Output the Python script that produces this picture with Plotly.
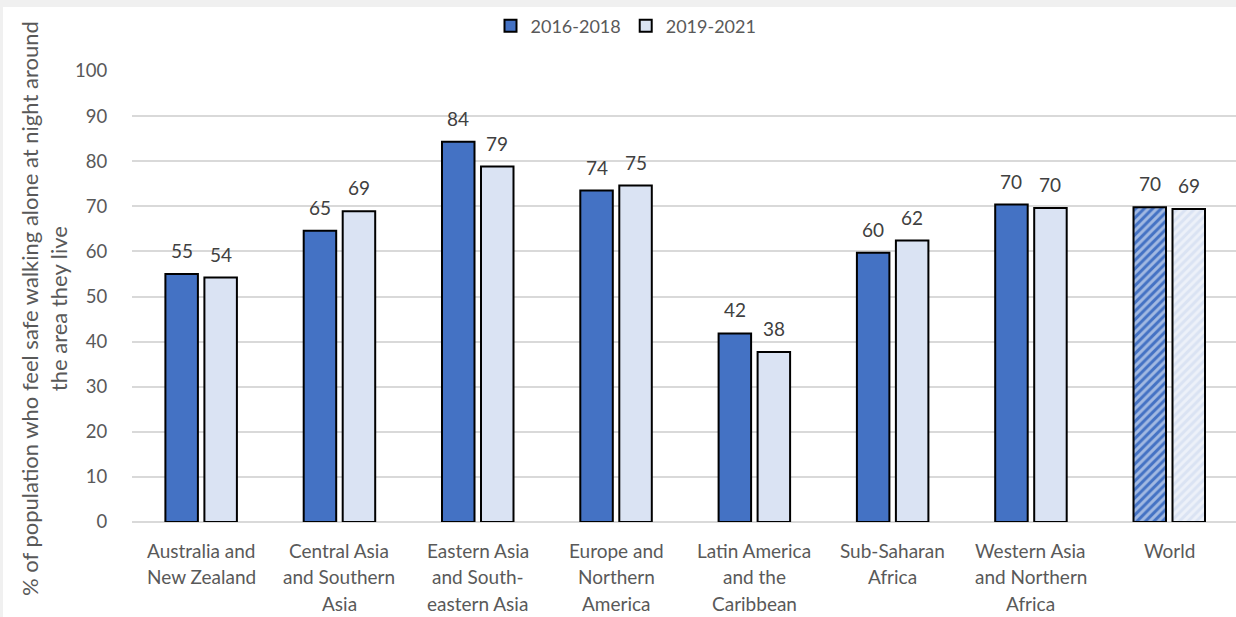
import plotly.graph_objects as go

# Regions (line breaks as wrapped under the axis)
regions = [
    "Australia and\nNew Zealand",
    "Central Asia\nand Southern\nAsia",
    "Eastern Asia\nand South-\neastern Asia",
    "Europe and\nNorthern\nAmerica",
    "Latin America\nand the\nCaribbean",
    "Sub-Saharan\nAfrica",
    "Western Asia\nand Northern\nAfrica",
    "World",
]
series_names = ["2016-2018", "2019-2021"]
safe_2016_2018 = [55.0, 64.6, 84.3, 73.5, 41.8, 59.7, 70.4, 69.8]
safe_2019_2021 = [54.2, 68.9, 78.8, 74.6, 37.7, 62.4, 69.6, 69.4]
y_ticks = [0, 10, 20, 30, 40, 50, 60, 70, 80, 90, 100]
y_title = "% of population who feel safe walking alone at night around<br>the area they live"

DARK = "#4472C4"
LIGHT = "#DAE3F3"
FONT = "Lato"
W, H = 1236, 617
L, T, B = 132, 71, 95
CAT_PX = 138.3
plot_w = W - L

keys = [r.split("\n")[0] for r in regions]  # unique category keys
n = len(regions)
hatch = ["/" if r == "World" else "" for r in regions]

bar_w = 0.235
half_gap = 0.141

fig = go.Figure()
for name, vals, color, sign in [
    (series_names[0], safe_2016_2018, DARK, -1),
    (series_names[1], safe_2019_2021, LIGHT, 1),
]:
    fig.add_trace(go.Bar(
        x=keys, y=vals, name=name,
        width=bar_w, offset=sign * half_gap - bar_w / 2,
        marker=dict(
            color=color,
            line=dict(color="#000000", width=2),
            pattern=dict(shape=hatch, fgcolor="#ffffff", size=6, solidity=0.5),
        ),
        hoverinfo="x+y",
    ))

annotations = []
# value labels above each bar
for vals, sign in [(safe_2016_2018, -1), (safe_2019_2021, 1)]:
    for k, v in zip(keys, vals):
        annotations.append(dict(
            x=k, y=v, xref="x", yref="y", text=f"{v:.0f}", showarrow=False,
            xanchor="center", yanchor="bottom", yshift=10,
            xshift=sign * half_gap * CAT_PX,
            font=dict(family=FONT, size=19, color="#404040"),
        ))
# category labels, one line at a time
for k, r in zip(keys, regions):
    for i, line in enumerate(r.split("\n")):
        annotations.append(dict(
            x=k, y=0, xref="x", yref="y", text=line, showarrow=False,
            xanchor="center", yanchor="middle", yshift=-28 - 26.5 * i,
            font=dict(family=FONT, size=19, color="#595959"),
        ))
# y-axis title
annotations.append(dict(
    x=(44 - L) / plot_w, y=(522 - 309) / 451, xref="paper", yref="paper",
    text=y_title, textangle=-90, showarrow=False,
    xanchor="center", yanchor="middle",
    font=dict(family=FONT, size=22, color="#595959"),
))

x_end = (n - 0.5) - (L + n * CAT_PX - W) / CAT_PX

fig.update_layout(
    width=W, height=H,
    margin=dict(l=L, r=0, t=T, b=B, pad=0),
    paper_bgcolor="#f0f0f0",
    plot_bgcolor="#ffffff",
    font=dict(family=FONT, size=18, color="#595959"),
    barmode="overlay",
    showlegend=True,
    legend=dict(
        orientation="h", x=(626 - L) / plot_w, xanchor="center",
        y=(522 - 26) / 451, yanchor="middle",
        font=dict(family=FONT, size=18, color="#595959"),
        bgcolor="rgba(0,0,0,0)", itemwidth=30, tracegroupgap=0,
    ),
    xaxis=dict(
        type="category", categoryorder="array", categoryarray=keys,
        range=[-0.5, x_end], showticklabels=False, showgrid=False,
        zeroline=False, showline=False, fixedrange=True,
    ),
    yaxis=dict(
        range=[0, 100], tickvals=y_ticks, showgrid=True,
        gridcolor="#d9d9d9", gridwidth=1.5, zeroline=True,
        zerolinecolor="#d9d9d9", zerolinewidth=1.5,
        ticks="outside", ticklen=20, tickcolor="rgba(0,0,0,0)",
        tickfont=dict(family=FONT, size=18.5, color="#595959"),
        showline=False, fixedrange=True,
    ),
    annotations=annotations,
    shapes=[dict(
        type="rect", xref="paper", yref="paper", layer="below",
        x0=(3 - L) / plot_w, x1=1.01, y0=(522 - 617) / 451, y1=(522 - 7) / 451,
        fillcolor="#ffffff", line=dict(width=0),
    )],
)

fig.write_html("out.html")
